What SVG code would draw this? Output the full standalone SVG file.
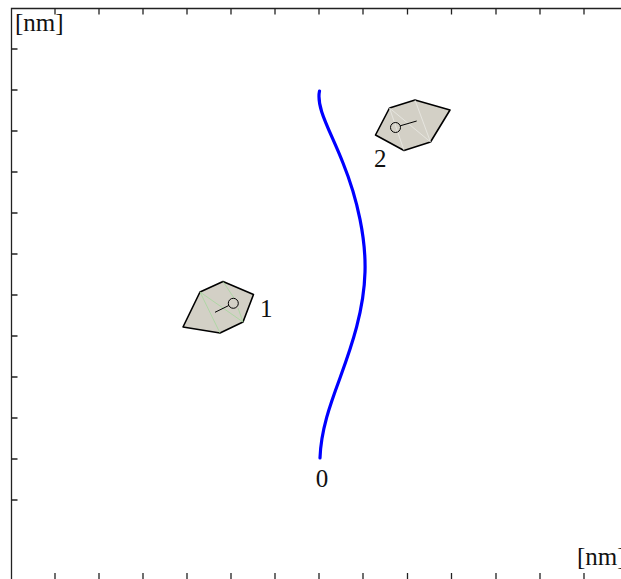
<svg xmlns="http://www.w3.org/2000/svg" width="621" height="579" viewBox="0 0 621 579">
<style>
.ax{stroke:#222;stroke-width:1.3;fill:none}
.part{fill:#d3d0c6;stroke:#000;stroke-width:1.6;stroke-linejoin:round}
.mesh1{stroke:#9fd896;stroke-width:0.7;fill:none}
.mesh2{stroke:#eeeeea;stroke-width:0.7;fill:none}
.mark{stroke:#000;stroke-width:1;fill:none}
</style>
<rect width="621" height="579" fill="#fff"/>
<g font-family="'Liberation Serif', 'Times New Roman', Times, serif" font-size="25" fill="#111">
<g id="axes">
<path class="ax" d="M11.5,579 V8.5 H621"/>
<path class="ax" d="M55,8.5v6 M99,8.5v6 M143,8.5v6 M187,8.5v6 M231,8.5v6 M275,8.5v6 M319,8.5v6 M363,8.5v6 M407.5,8.5v6 M451.5,8.5v6 M496,8.5v6 M540,8.5v6 M584,8.5v6"/>
<path class="ax" d="M55,573v6 M99,573v6 M143,573v6 M187,573v6 M231,573v6 M275,573v6 M319,573v6 M363,573v6 M407.5,573v6 M451.5,573v6 M496,573v6 M540,573v6 M584,573v6"/>
<path class="ax" d="M11.5,49h6 M11.5,90h6 M11.5,131h6 M11.5,172h6 M11.5,213h6 M11.5,254h6 M11.5,295h6 M11.5,336h6 M11.5,377h6 M11.5,418h6 M11.5,459h6 M11.5,500h6"/>
<text x="15" y="31">[nm]</text>
<text x="577" y="565">[nm]</text>
</g>
<g id="connectors">
<path d="M319.5,91 C316,108 330,130 343,163 C358,200 366,240 365,272 C364,310 352,345 340,378 C330,405 321,430 320,458" fill="none" stroke="#0000ff" stroke-width="3.2" stroke-linecap="round"/>
</g>
<g id="node0">
<text x="322" y="487" text-anchor="middle">0</text>
</g>
<g id="node1">
<polygon class="part" points="200,292 223,281.5 253.5,294.5 243,322 220,333 183,327"/>
<path class="mesh1" d="M200,292 L243,322 M223,281.5 L234,298 M200,292 L220,333 M238,308 L243,322"/>
<circle class="mark" cx="233.3" cy="303.3" r="5"/>
<line class="mark" x1="215" y1="312.3" x2="228.8" y2="305.5"/>
<text x="260" y="317">1</text>
</g>
<g id="node2">
<polygon class="part" points="389.5,108 415,100 450,110 430.5,142 404,150.5 375.5,135"/>
<path class="mesh2" d="M389.5,108 L404,150.5 M415,100 L430.5,142 M389.5,108 L430.5,142"/>
<circle class="mark" cx="395.5" cy="127.5" r="5"/>
<line class="mark" x1="400.2" y1="125.8" x2="416.7" y2="121"/>
<text x="374" y="167">2</text>
</g>
</g>
</svg>
